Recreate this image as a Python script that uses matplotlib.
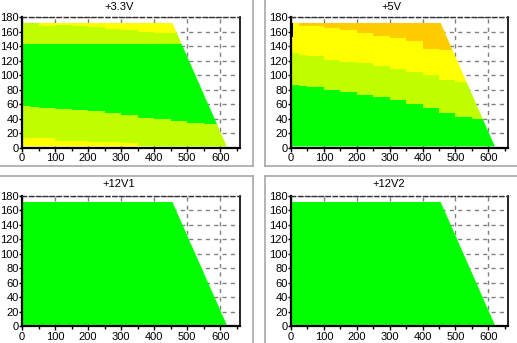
import matplotlib
matplotlib.use("Agg")
import matplotlib.pyplot as plt
from matplotlib.patches import Polygon
from matplotlib.lines import Line2D
from matplotlib.ticker import MultipleLocator

plt.rcParams["font.family"] = ["Liberation Sans", "DejaVu Sans"]

GREEN = "#00ff00"
LIME = "#bfff00"
YELLOW = "#ffff00"
ORANGE = "#ffcc00"
BLACK = "#000000"

# load on the 12 V rails (x) — step positions of the band boundaries
load_x = [0, 25, 50, 100, 150, 200, 250, 300, 350, 400, 450, 500, 550, 600, 650]

# +3.3V band boundaries (load on 3.3V + 5V rails)
v33_yellow_low = [13, 13, 13, 9, 9, 8, 8, 6, 2, 0, 0, 0, 0, 0, 0]
v33_green_low = [57, 56, 54, 53, 52, 51, 48, 45, 41, 40, 36, 34, 32, 30, 30]
v33_green_high = [143, 143, 143, 143, 143, 143, 143, 143, 143, 143, 143, 143, 143, 143, 143]
v33_yellow_high = [172, 172, 168, 169, 167, 166, 164, 162, 159, 158, 158, 158, 158, 158, 158]

# +5V band boundaries
v5_green_high = [86, 85, 83, 79, 77, 73, 70, 66, 60, 55, 47, 42, 39, 37, 37]
v5_lime_high = [130, 128, 126, 121, 118, 116, 113, 108, 104, 100, 93, 91, 89, 88, 88]
v5_yellow_high = [172, 168, 167, 165, 162, 158, 154, 151, 147, 136, 135, 134, 134, 134, 134]

# operating envelope (cross-load limit)
envelope_x = [1, 1, 455, 620]
envelope_y = [1.5, 172, 172, 1.5]

titles = ["+3.3V", "+5V", "+12V1", "+12V2"]
x_ticks = [0, 100, 200, 300, 400, 500, 600]
y_ticks = [0, 20, 40, 60, 80, 100, 120, 140, 160, 180]

W, H = 517, 343
fig = plt.figure(figsize=(W / 100, H / 100), dpi=100)
fig.patch.set_facecolor("white")


def px_rect(left, top, right, bottom):
    return [left / W, 1 - bottom / H, (right - left) / W, (bottom - top) / H]


axes_px = [
    (22, 17, 240, 147.5),
    (291, 17, 508, 147.5),
    (22, 196, 240, 326),
    (291, 196, 508, 326),
]
title_px = [(119, 7), (391, 7), (119, 184), (389, 184)]

zeros = [0] * len(load_x)
top = [172] * len(load_x)

band_sets = [
    [
        (zeros, v33_yellow_low, YELLOW),
        (v33_yellow_low, v33_green_low, LIME),
        (v33_green_low, v33_green_high, GREEN),
        (v33_green_high, v33_yellow_high, LIME),
        (v33_yellow_high, top, YELLOW),
    ],
    [
        (zeros, v5_green_high, GREEN),
        (v5_green_high, v5_lime_high, LIME),
        (v5_lime_high, v5_yellow_high, YELLOW),
        (v5_yellow_high, top, ORANGE),
    ],
    [(zeros, top, GREEN)],
    [(zeros, top, GREEN)],
]

for i, (rect, bands) in enumerate(zip(axes_px, band_sets)):
    ax = fig.add_axes(px_rect(*rect))
    ax.set_xlim(0, 660)
    ax.set_ylim(0, 180)
    ax.set_facecolor("white")

    clip = Polygon(list(zip(envelope_x, envelope_y)), closed=True,
                   transform=ax.transData, facecolor="none", edgecolor="none")
    for lo, hi, col in bands:
        coll = ax.fill_between(load_x, lo, hi, step="post", color=col,
                               linewidth=0, zorder=2, antialiased=False)
        coll.set_clip_path(clip)

    if i == 1:
        # dark column along the zero-load edge of the +5V map
        edge = ax.fill_between([1, 4], [1.5, 1.5], [172, 172], color=BLACK,
                               linewidth=0, zorder=3)
        ax.fill_between([1, 7], [152, 152], [172, 172], color=BLACK,
                        linewidth=0, zorder=3)

    ax.xaxis.set_major_locator(MultipleLocator(100))
    ax.xaxis.set_minor_locator(MultipleLocator(50))
    ax.set_xticks(x_ticks)
    ax.set_yticks(y_ticks)
    ax.grid(True, which="major", color="#808080", linestyle=(0, (3, 3)),
            linewidth=1)
    ax.set_axisbelow(True)

    ax.tick_params(axis="both", which="both", direction="out", length=3,
                   width=1, labelsize=8, pad=1, colors="black")
    ax.tick_params(axis="x", which="minor", length=2)
    ax.tick_params(axis="y", length=2, pad=0.5)

    for side in ("left", "bottom"):
        ax.spines[side].set_linewidth(1.6)
        ax.spines[side].set_color("black")
    ax.spines["right"].set_linewidth(1.2)
    ax.spines["right"].set_color("black")
    ax.spines["top"].set_linewidth(1.0)
    ax.spines["top"].set_color("#303030")
    ax.spines["top"].set_linestyle((0, (3, 2)))

    tx, ty = title_px[i]
    fig.text(tx / W, 1 - ty / H, titles[i], ha="center", va="center",
             fontsize=8)

# group-box frames around the panels
frame_color = "#a8a8a8"
frames = [
    ((0, 253), (166, 166)),
    ((253, 253), (0, 166)),
    ((265, 517), (166, 166)),
    ((265, 265), (0, 166)),
    ((0, 253), (176, 176)),
    ((253, 253), (176, 343)),
    ((265, 517), (176, 176)),
    ((265, 265), (176, 343)),
]
for xs, ys in frames:
    fig.add_artist(Line2D([x / W for x in xs], [1 - y / H for y in ys],
                          color=frame_color, linewidth=1.2))

fig.savefig("out.png", dpi=100, facecolor="white")
